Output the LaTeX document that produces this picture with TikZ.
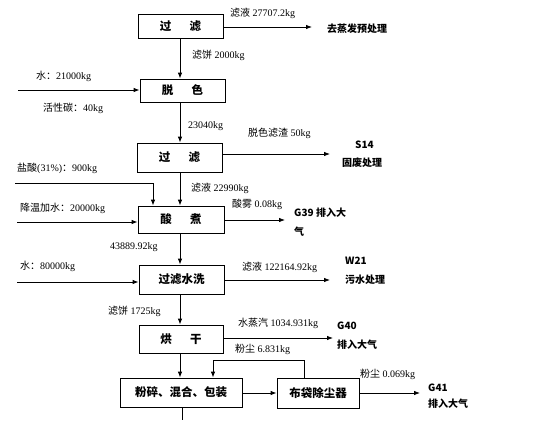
\documentclass[tikz,border=0pt]{standalone}
\usepackage{fontspec}
\setmainfont{Liberation Serif}
\newfontfamily\cjk{Noto Sans CJK SC}
\usetikzlibrary{arrows.meta}
\begin{document}
\begin{tikzpicture}[x=1pt,y=-1pt,
  box/.style={draw,line width=0.8pt,inner sep=0pt,font=\cjk\bfseries\fontsize{11.5}{12}\selectfont},
  arr/.style={line width=0.8pt,-{Latex[length=6pt,width=4.5pt]}},
  ln/.style={line width=0.8pt},
  lbl/.style={anchor=west,inner sep=0pt,font=\fontsize{10}{11}\selectfont},
  outtxt/.style={anchor=west,inner sep=0pt,font=\cjk\bfseries\fontsize{10}{11}\selectfont}]
\useasboundingbox (0,0) rectangle (560,434);
% boxes
\node[box,minimum width=85pt,minimum height=24pt] (b1) at (180.5,26) {过\hspace{1.6em}滤};
\node[box,minimum width=85pt,minimum height=23pt] (b2) at (182.5,90.5) {脱\hspace{1.6em}色};
\node[box,minimum width=85pt,minimum height=29pt] (b3) at (179.5,157.5) {过\hspace{1.6em}滤};
\node[box,minimum width=86pt,minimum height=27pt] (b4) at (181,219.5) {酸\hspace{1.6em}煮};
\node[box,minimum width=85pt,minimum height=29pt] (b5) at (181.5,279.5) {过滤水洗};
\node[box,minimum width=84pt,minimum height=28pt] (b6) at (181,339) {烘\hspace{1.6em}干};
\node[box,minimum width=122pt,minimum height=29pt] (b7) at (181,392.5) {粉碎、混合、包装};
\node[box,minimum width=82pt,minimum height=30pt] (b8) at (318,393) {布袋除尘器};
% main vertical flow
\coordinate (ax) at (180,0);
\draw[arr] (b1.south -| ax) -- (b2.north -| ax);
\draw[arr] (b2.south -| ax) -- (b3.north -| ax);
\draw[arr] (b3.south -| ax) -- (b4.north -| ax);
\draw[arr] (b4.south -| ax) -- (b5.north -| ax);
\draw[arr] (b5.south -| ax) -- (b6.north -| ax);
\draw[arr] (b6.south -| ax) -- (b7.north -| ax);
\coordinate (bot) at (182,420);
\draw[ln] (b7.south -| bot) -- (bot);
% inputs
\coordinate (in1) at (18,90);
\draw[arr] (in1) -- (in1 -| b2.west);
\coordinate (in2) at (15,183);
\coordinate (hcl) at (153,183);
\draw[arr] (in2) -- (hcl) -- (hcl |- b4.north);
\coordinate (in3) at (17,222);
\draw[arr] (in3) -- (in3 -| b4.west);
\coordinate (in4) at (17,282);
\draw[arr] (in4) -- (in4 -| b5.west);
% outputs
\coordinate (o1) at (312,27);
\draw[arr] (b1.east |- o1) -- (o1);
\coordinate (o3) at (330,154);
\draw[arr] (b3.east |- o3) -- (o3);
\coordinate (o4) at (285,220);
\draw[arr] (b4.east |- o4) -- (o4);
\coordinate (o5) at (330,280);
\draw[arr] (b5.east |- o5) -- (o5);
\coordinate (o6) at (333,338);
\draw[arr] (b6.east |- o6) -- (o6);
\coordinate (o8) at (420,393);
\draw[arr] (b8.east |- o8) -- (o8);
\draw[arr] (b7.east |- o8) -- (b8.west |- o8);
% dust return
\coordinate (dt) at (304,360);
\coordinate (dd) at (213,360);
\draw[arr] (dt |- b8.north) -- (dt) -- (dd) -- (dd |- b7.north);
% labels
\node[lbl] (l1) at (230,13) {{\cjk 滤液} 27707.2kg};
\node[outtxt] (t1) at (327,29) {去蒸发预处理};
\node[lbl] (l2) at (192,55) {{\cjk 滤饼} 2000kg};
\node[lbl] (l3) at (36,76) {{\cjk 水：}21000kg};
\node[lbl] (l4) at (43,108) {{\cjk 活性碳：}40kg};
\node[lbl] (l5) at (188,126) {23040kg};
\node[lbl] (l6) at (248,133) {{\cjk 脱色滤渣} 50kg};
\node[outtxt] (t2) at (355,145) {S14};
\node[outtxt] (t3) at (342,163) {固废处理};
\node[lbl] (l7) at (17,168) {{\cjk 盐酸}(31\%){\cjk ：}900kg};
\node[lbl] (l8) at (191,188) {{\cjk 滤液} 22990kg};
\node[lbl] (l9) at (232,204) {{\cjk 酸雾} 0.08kg};
\node[lbl] (l10) at (20,208) {{\cjk 降温加水：}20000kg};
\node[outtxt] (t4) at (294,213) {G39 排入大};
\node[outtxt] (t5) at (294,232) {气};
\node[lbl] (l11) at (110,247) {43889.92kg};
\node[outtxt] (t6) at (345,261) {W21};
\node[lbl] (l12) at (20,266) {{\cjk 水：}80000kg};
\node[lbl] (l13) at (242,267) {{\cjk 滤液} 122164.92kg};
\node[outtxt] (t7) at (345,280) {污水处理};
\node[lbl] (l14) at (108,311) {{\cjk 滤饼} 1725kg};
\node[lbl] (l15) at (238,323) {{\cjk 水蒸汽} 1034.931kg};
\node[outtxt] (t8) at (337,326) {G40};
\node[outtxt] (t9) at (337,345) {排入大气};
\node[lbl] (l16) at (235,349) {{\cjk 粉尘} 6.831kg};
\node[lbl] (l17) at (360,374) {{\cjk 粉尘} 0.069kg};
\node[outtxt] (t10) at (428,388) {G41};
\node[outtxt] (t11) at (428,404) {排入大气};
\end{tikzpicture}
\end{document}
